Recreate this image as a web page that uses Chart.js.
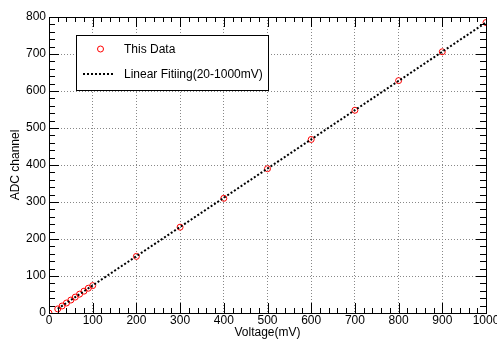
<!DOCTYPE html>
<html>
<head>
<meta charset="utf-8">
<script src="https://cdn.jsdelivr.net/npm/chart.js@4.4.1/dist/chart.umd.min.js"></script>
<style>
html,body{margin:0;padding:0;background:#fff;}
#wrap{width:497px;height:341px;position:relative;}
</style>
</head>
<body>
<div id="wrap"><canvas id="c" width="497" height="341"></canvas></div>
<script>
// ---- data ----
const voltage = [0, 20, 30, 40, 50, 60, 70, 80, 90, 100, 200, 300, 400, 500, 600, 700, 800, 900, 1000];
const adc     = [0, 11, 19, 27, 35, 43, 51, 59, 67, 74, 153, 232, 310, 390, 469, 548, 628, 706, 785];
const fitX = [20, 1000];
const fitY = [11.4, 785.2];
const xTicks = [0, 100, 200, 300, 400, 500, 600, 700, 800, 900, 1000];
const yTicks = [0, 100, 200, 300, 400, 500, 600, 700, 800];
const seriesNames = ['This Data', 'Linear Fitiing(20-1000mV)'];
const xTitle = 'Voltage(mV)';
const yTitle = 'ADC channel';

const FONT = 'Liberation Sans, Arial, Helvetica, sans-serif';

const framePlugin = {
  id: 'frame',
  afterDraw(chart) {
    const ctx = chart.ctx;
    const a = chart.chartArea;
    const xs = chart.scales.x, ys = chart.scales.y;
    ctx.save();
    ctx.strokeStyle = '#000';
    ctx.lineWidth = 1;
    // inward ticks on all four sides
    ctx.beginPath();
    for (let v = xs.min; v <= xs.max + 1e-6; v += 20) {
      const px = Math.round(xs.getPixelForValue(v)) + 0.5;
      const len = (v % 100 === 0) ? 10 : 5;
      ctx.moveTo(px, a.bottom); ctx.lineTo(px, a.bottom - len);
      ctx.moveTo(px, a.top); ctx.lineTo(px, a.top + len);
    }
    for (let v = ys.min; v <= ys.max + 1e-6; v += 20) {
      const py = Math.round(ys.getPixelForValue(v)) + 0.5;
      const len = (v % 100 === 0) ? 10 : 6;
      ctx.moveTo(a.left, py); ctx.lineTo(a.left + len, py);
      ctx.moveTo(a.right, py); ctx.lineTo(a.right - len, py);
    }
    ctx.stroke();
    ctx.strokeRect(Math.round(a.left) + 0.5, Math.round(a.top) + 0.5,
                   Math.round(a.right - a.left), Math.round(a.bottom - a.top));

    // legend box
    const bx = 76.5, by = 35.5, bw = 192, bh = 55;
    ctx.fillStyle = '#fff';
    ctx.fillRect(bx, by, bw, bh);
    ctx.strokeStyle = '#000';
    ctx.lineWidth = 1;
    ctx.strokeRect(bx, by, bw, bh);
    // marker
    ctx.strokeStyle = '#ff0000';
    ctx.beginPath();
    ctx.arc(100.5, 49, 3, 0, Math.PI * 2);
    ctx.stroke();
    // dotted line
    ctx.strokeStyle = '#000';
    ctx.lineWidth = 2;
    ctx.setLineDash([2, 2]);
    ctx.beginPath();
    ctx.moveTo(83, 74); ctx.lineTo(114, 74);
    ctx.stroke();
    ctx.setLineDash([]);
    ctx.fillStyle = '#000';
    ctx.font = '12px ' + FONT;
    ctx.textBaseline = 'middle';
    ctx.textAlign = 'left';
    ctx.fillText(seriesNames[0], 124, 49.5);
    ctx.fillText(seriesNames[1], 124, 74.5);
    ctx.restore();
  }
};

new Chart(document.getElementById('c'), {
  type: 'scatter',
  data: {
    datasets: [
      {
        label: seriesNames[1],
        type: 'line',
        data: fitX.map((x, i) => ({x, y: fitY[i]})),
        borderColor: '#000',
        borderWidth: 2,
        borderDash: [2, 2],
        pointRadius: 0,
        fill: false,
        order: 0
      },
      {
        label: seriesNames[0],
        data: voltage.map((x, i) => ({x, y: adc[i]})),
        pointStyle: 'circle',
        pointRadius: 3,
        pointBorderWidth: 1,
        borderColor: '#ff0000',
        backgroundColor: 'rgba(0,0,0,0)',
        pointBackgroundColor: 'rgba(0,0,0,0)',
        order: 1
      }
    ]
  },
  options: {
    responsive: false,
    animation: false,
    devicePixelRatio: 1,
    layout: { padding: { top: 17, right: 11, bottom: 0, left: 0 } },
    plugins: { legend: { display: false }, tooltip: { enabled: false } },
    scales: {
      x: {
        type: 'linear', min: 0, max: 1000,
        afterBuildTicks(s) { s.ticks = xTicks.map(v => ({value: v})); },
        afterFit(s) { s.height = 28; s.paddingLeft = 0; s.paddingRight = 0; },
        ticks: { color: '#000', font: { family: FONT, size: 12 }, padding: 0, maxRotation: 0, autoSkip: false,
                 callback: v => String(v) },
        grid: { color: '#888', lineWidth: 1, drawTicks: false },
        border: { display: false, dash: [1, 2] },
        title: { display: true, text: xTitle, color: '#000', font: { family: FONT, size: 12 }, padding: { top: 0, bottom: 1 } }
      },
      y: {
        type: 'linear', min: 0, max: 800,
        afterBuildTicks(s) { s.ticks = yTicks.map(v => ({value: v})); },
        afterFit(s) { s.width = 49; s.paddingTop = 0; s.paddingBottom = 0; },
        ticks: { color: '#000', font: { family: FONT, size: 12 }, padding: 3, autoSkip: false,
                 callback: v => String(v) },
        grid: { color: '#888', lineWidth: 1, drawTicks: false },
        border: { display: false, dash: [1, 2] },
        title: { display: true, text: yTitle, color: '#000', font: { family: FONT, size: 12 }, padding: { top: 8, bottom: 0 } }
      }
    }
  },
  plugins: [framePlugin]
});
</script>
</body>
</html>
